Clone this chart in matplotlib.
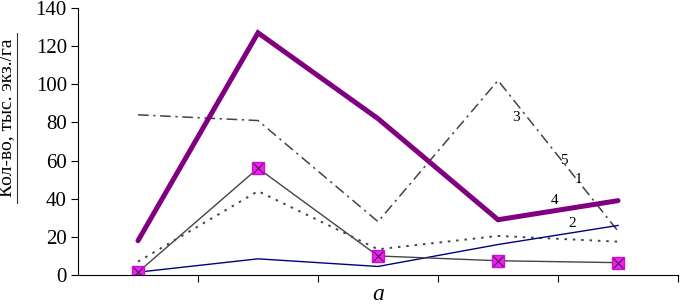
import matplotlib
matplotlib.use("Agg")
import matplotlib.pyplot as plt
from matplotlib.lines import Line2D
import numpy as np

plt.rcParams['font.family'] = ['Liberation Serif', 'DejaVu Serif']

# Data
categories = [1, 2, 3, 4, 5]
s1 = [1.5, 8.5, 4.5, 16, 26]        # navy
s2 = [7, 44, 13.5, 20.5, 17.5]      # dotted
s3 = [84, 81, 28, 102, 23]          # dash-dot
s4 = [18, 127, 82, 29, 39]          # thick purple
s5 = [1.5, 56, 10, 7.5, 6.5]        # with square markers
yticks = [0, 20, 40, 60, 80, 100, 120, 140]

fig = plt.figure(figsize=(6.8, 3.08), dpi=100)
ax = fig.add_axes([0.1147, 0.107, 0.8824, 0.867])

x = np.array(categories)
ax.plot(x, s3, color='#444444', lw=1.1, dashes=(7, 3, 1.5, 3))
ax.plot(x, s2, color='#444444', lw=1.4, dashes=(1.3, 3))
ax.plot(x, s1, color='#000080', lw=1.0)
ax.plot(x, s5, color='#444444', lw=1.0)
ax.plot(x, s5, ls='none', marker='s', ms=8.5, mfc='#ee22ee', mec='#cc11cc')
ax.plot(x, s5, ls='none', marker='x', ms=7.5, mec='#551155', mew=0.8)
ax.plot(x, s4, color='#800080', lw=3.6, solid_capstyle='round', solid_joinstyle='miter')

# series labels
ax.text(4.12, 81, '3', fontsize=11)
ax.text(4.52, 58, '5', fontsize=11)
ax.text(4.64, 48, '1', fontsize=11)
ax.text(4.44, 37, '4', fontsize=11)
ax.text(4.59, 25, '2', fontsize=11)

ax.set_xlim(0.5, 5.5)
ax.set_ylim(0, 140)
ax.set_xticks([1.5, 2.5, 3.5, 4.5, 5.5])
ax.set_xticklabels([])
ax.set_yticks(yticks)
ax.tick_params(axis='y', direction='out', length=5, labelsize=15, pad=3)
ax.tick_params(axis='x', direction='out', length=5)
for sp in ['top', 'right']:
    ax.spines[sp].set_visible(False)
ax.set_ylabel('Кол-во, тыс. экз./га', fontsize=14)
ax.yaxis.set_label_coords(-0.104, 0.59)
ax.set_xlabel('а', fontsize=17, style='italic', labelpad=-2)

# underline of the y label
fig.add_artist(Line2D([17 / 680, 17 / 680], [1 - 203 / 308, 1 - 33 / 308],
                      color='#333333', lw=0.8))

fig.savefig('out.png', dpi=100)
